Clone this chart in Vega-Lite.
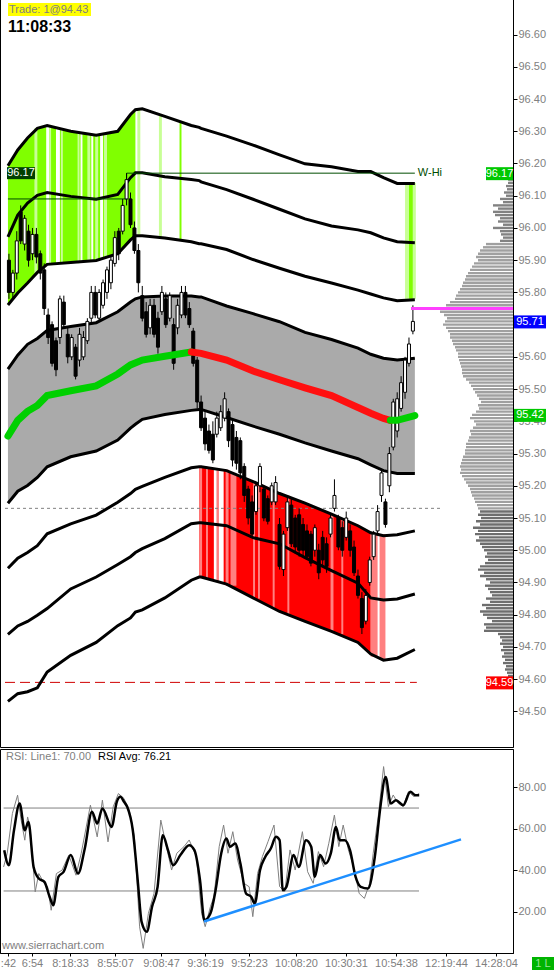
{
"$schema":"https://vega.github.io/schema/vega-lite/v6.json",
"padding":{"left":-2,"top":-3,"right":0,"bottom":0},
"spacing":0,
"background":"white",
"config":{"view":{"stroke":"black","strokeWidth":1},"concat":{"spacing":0},"text":{"font":"Liberation Sans"},"scale":{"nice":false,"zero":false},"axis":{"grid":false,"labelOverlap":false,"labelFont":"Liberation Sans","labelFontSize":11,"labelColor":"#808080","domainColor":"black","tickColor":"black"}},
"datasets":{
"bands":[
{"i":-0.25,"A":96.193,"B":95.972,"C":95.761,"D":95.562,"E":95.354,"F":95.146,"G":94.944,"H":94.739,"I":94.531},
{"i":2.25,"A":96.242,"B":96.040,"C":95.798,"D":95.605,"E":95.403,"F":95.183,"G":94.975,"H":94.765,"I":94.555},
{"i":4.75,"A":96.279,"B":96.077,"C":95.829,"D":95.639,"E":95.431,"F":95.201,"G":94.993,"H":94.779,"I":94.561},
{"i":7.25,"A":96.309,"B":96.101,"C":95.862,"D":95.657,"E":95.449,"F":95.226,"G":95.014,"H":94.798,"I":94.573},
{"i":9.75,"A":96.318,"B":96.110,"C":95.887,"D":95.682,"E":95.480,"F":95.259,"G":95.051,"H":94.819,"I":94.622},
{"i":15.75,"A":96.300,"B":96.098,"C":95.893,"D":95.694,"E":95.495,"F":95.290,"G":95.082,"H":94.880,"I":94.674},
{"i":22.25,"A":96.288,"B":96.089,"C":95.899,"D":95.706,"E":95.510,"F":95.308,"G":95.109,"H":94.917,"I":94.714},
{"i":27.75,"A":96.300,"B":96.104,"C":95.920,"D":95.740,"E":95.547,"F":95.342,"G":95.149,"H":94.956,"I":94.766},
{"i":31,"A":96.352,"B":96.156,"C":95.963,"D":95.770,"E":95.575,"F":95.379,"G":95.176,"H":94.980,"I":94.790},
{"i":32.25,"A":96.367,"B":96.171,"C":95.976,"D":95.780,"E":95.581,"F":95.391,"G":95.189,"H":94.993,"I":94.808},
{"i":34,"A":96.370,"B":96.171,"C":95.976,"D":95.786,"E":95.590,"F":95.406,"G":95.198,"H":95.005,"I":94.815},
{"i":39.75,"A":96.346,"B":96.159,"C":95.969,"D":95.789,"E":95.602,"F":95.421,"G":95.226,"H":95.036,"I":94.852},
{"i":46.5,"A":96.318,"B":96.150,"C":95.957,"D":95.789,"E":95.615,"F":95.434,"G":95.256,"H":95.082,"I":94.907},
{"i":48.5,"A":96.312,"B":96.147,"C":95.951,"D":95.786,"E":95.611,"F":95.437,"G":95.259,"H":95.085,"I":94.917},
{"i":49,"A":96.309,"B":96.143,"C":95.951,"D":95.786,"E":95.611,"F":95.437,"G":95.259,"H":95.085,"I":94.917},
{"i":55.5,"A":96.285,"B":96.119,"C":95.933,"D":95.758,"E":95.590,"F":95.412,"G":95.247,"H":95.076,"I":94.895},
{"i":62.25,"A":96.257,"B":96.089,"C":95.902,"D":95.734,"E":95.556,"F":95.385,"G":95.213,"H":95.039,"I":94.852},
{"i":69,"A":96.227,"B":96.058,"C":95.875,"D":95.709,"E":95.529,"F":95.360,"G":95.176,"H":95.020,"I":94.810},
{"i":75.5,"A":96.199,"B":96.028,"C":95.850,"D":95.676,"E":95.504,"F":95.333,"G":95.146,"H":94.977,"I":94.779},
{"i":82.25,"A":96.190,"B":96.006,"C":95.829,"D":95.654,"E":95.480,"F":95.308,"G":95.112,"H":94.937,"I":94.748},
{"i":89,"A":96.175,"B":95.994,"C":95.807,"D":95.627,"E":95.443,"F":95.284,"G":95.076,"H":94.898,"I":94.714},
{"i":92.25,"A":96.175,"B":95.985,"C":95.795,"D":95.608,"E":95.425,"F":95.265,"G":95.054,"H":94.852,"I":94.678},
{"i":95.5,"A":96.156,"B":95.969,"C":95.783,"D":95.596,"E":95.409,"F":95.247,"G":95.045,"H":94.846,"I":94.659},
{"i":99,"A":96.138,"B":95.957,"C":95.774,"D":95.590,"E":95.403,"F":95.238,"G":95.048,"H":94.849,"I":94.665},
{"i":103.5,"A":96.138,"B":95.954,"C":95.777,"D":95.596,"E":95.418,"F":95.238,"G":95.060,"H":94.864,"I":94.692}
],
"stripes":[
{"a":6.5,"b":7.25,"t":96.31,"u":95.86,"k":"lg"},
{"a":9.5,"b":10.25,"t":96.32,"u":95.88,"k":"w"},
{"a":10.25,"b":10.75,"t":96.32,"u":95.89,"k":"lg"},
{"a":12,"b":13,"t":96.31,"u":95.89,"k":"w"},
{"a":13.25,"b":13.75,"t":96.31,"u":95.89,"k":"lg"},
{"a":17.5,"b":18,"t":96.30,"u":95.89,"k":"lg"},
{"a":18.25,"b":18.75,"t":96.30,"u":95.89,"k":"w"},
{"a":20,"b":20.75,"t":96.29,"u":95.90,"k":"lg"},
{"a":21,"b":21.5,"t":96.29,"u":95.90,"k":"w"},
{"a":22,"b":22.75,"t":96.29,"u":95.90,"k":"lg"},
{"a":23.25,"b":24,"t":96.29,"u":95.90,"k":"w"},
{"a":24.25,"b":25,"t":96.29,"u":95.91,"k":"lg"},
{"a":32.75,"b":33.5,"t":96.37,"u":95.98,"k":"lg"},
{"a":38.25,"b":39,"t":96.35,"u":95.97,"k":"lg"},
{"a":43.5,"b":44,"t":96.33,"u":95.96,"k":"g"},
{"a":101,"b":102,"t":96.14,"u":95.78,"k":"lg"},
{"a":102,"b":103,"t":96.14,"u":95.78,"k":"g"},
{"a":103,"b":103.75,"t":96.14,"u":95.78,"k":"lg"},
{"a":48.5,"b":49.25,"t":95.26,"u":94.92,"k":"pk"},
{"a":50.25,"b":50.75,"t":95.26,"u":94.91,"k":"pk"},
{"a":52.25,"b":53,"t":95.25,"u":94.90,"k":"w"},
{"a":53,"b":53.5,"t":95.25,"u":94.90,"k":"pk"},
{"a":53.5,"b":54.75,"t":95.25,"u":94.90,"k":"w"},
{"a":55.25,"b":56,"t":95.25,"u":94.89,"k":"pk"},
{"a":56.5,"b":58,"t":95.24,"u":94.89,"k":"pk"},
{"a":62.25,"b":62.75,"t":95.21,"u":94.85,"k":"pk"},
{"a":63.5,"b":64,"t":95.21,"u":94.85,"k":"pk"},
{"a":67.25,"b":67.75,"t":95.19,"u":94.82,"k":"pk"},
{"a":71,"b":71.5,"t":95.17,"u":94.80,"k":"pk"},
{"a":82,"b":82.75,"t":95.11,"u":94.75,"k":"pk"},
{"a":84.75,"b":85.25,"t":95.10,"u":94.74,"k":"pk"},
{"a":92.25,"b":94,"t":95.05,"u":94.67,"k":"pk"},
{"a":94.5,"b":96,"t":95.05,"u":94.66,"k":"pk"}
],
"candles":[
{"i":0,"o":95.90,"h":95.92,"l":95.78,"c":95.80},{"i":1,"o":95.80,"h":95.87,"l":95.78,"c":95.86},{"i":2,"o":95.86,"h":95.99,"l":95.84,"c":95.96},{"i":3,"o":96.05,"h":96.07,"l":95.95,"c":95.96},{"i":4,"o":95.95,"h":96.04,"l":95.93,"c":96.03},{"i":5,"o":95.99,"h":96.01,"l":95.88,"c":95.90},{"i":6,"o":95.92,"h":96.00,"l":95.90,"c":95.98},{"i":7,"o":95.98,"h":96.00,"l":95.89,"c":95.91},{"i":8,"o":95.92,"h":95.93,"l":95.84,"c":95.86},{"i":9,"o":95.87,"h":95.89,"l":95.73,"c":95.75},
{"i":10,"o":95.73,"h":95.75,"l":95.64,"c":95.66},{"i":11,"o":95.70,"h":95.71,"l":95.57,"c":95.58},{"i":12,"o":95.65,"h":95.66,"l":95.54,"c":95.56},{"i":13,"o":95.66,"h":95.79,"l":95.64,"c":95.78},{"i":14,"o":95.77,"h":95.79,"l":95.69,"c":95.70},{"i":15,"o":95.67,"h":95.69,"l":95.58,"c":95.60},{"i":16,"o":95.60,"h":95.67,"l":95.59,"c":95.66},{"i":17,"o":95.63,"h":95.64,"l":95.53,"c":95.54},{"i":18,"o":95.59,"h":95.69,"l":95.57,"c":95.67},{"i":19,"o":95.60,"h":95.68,"l":95.59,"c":95.66},
{"i":20,"o":95.65,"h":95.72,"l":95.64,"c":95.71},{"i":21,"o":95.72,"h":95.82,"l":95.70,"c":95.80},{"i":22,"o":95.80,"h":95.82,"l":95.72,"c":95.73},{"i":23,"o":95.72,"h":95.81,"l":95.71,"c":95.80},{"i":24,"o":95.76,"h":95.84,"l":95.75,"c":95.83},{"i":25,"o":95.80,"h":95.88,"l":95.78,"c":95.87},{"i":26,"o":95.83,"h":95.91,"l":95.81,"c":95.90},{"i":27,"o":95.89,"h":95.99,"l":95.88,"c":95.97},{"i":28,"o":95.99,"h":96.00,"l":95.90,"c":95.92},{"i":29,"o":95.99,"h":96.09,"l":95.98,"c":96.07},
{"i":30,"o":96.09,"h":96.17,"l":96.07,"c":96.15},{"i":31,"o":96.09,"h":96.11,"l":96.00,"c":96.01},{"i":32,"o":96.00,"h":96.02,"l":95.92,"c":95.93},{"i":33,"o":95.93,"h":95.95,"l":95.80,"c":95.83},{"i":34,"o":95.79,"h":95.82,"l":95.71,"c":95.72},{"i":35,"o":95.74,"h":95.77,"l":95.66,"c":95.67},{"i":36,"o":95.69,"h":95.78,"l":95.67,"c":95.76},{"i":37,"o":95.76,"h":95.78,"l":95.66,"c":95.67},{"i":38,"o":95.72,"h":95.74,"l":95.61,"c":95.63},{"i":39,"o":95.74,"h":95.82,"l":95.73,"c":95.80},
{"i":40,"o":95.78,"h":95.80,"l":95.69,"c":95.70},{"i":41,"o":95.72,"h":95.80,"l":95.71,"c":95.79},{"i":42,"o":95.70,"h":95.72,"l":95.56,"c":95.58},{"i":43,"o":95.69,"h":95.78,"l":95.67,"c":95.76},{"i":44,"o":95.73,"h":95.82,"l":95.72,"c":95.80},{"i":45,"o":95.80,"h":95.82,"l":95.72,"c":95.73},{"i":46,"o":95.75,"h":95.77,"l":95.69,"c":95.70},{"i":47,"o":95.68,"h":95.69,"l":95.57,"c":95.58},{"i":48,"o":95.59,"h":95.60,"l":95.44,"c":95.46},{"i":49,"o":95.46,"h":95.48,"l":95.37,"c":95.38},
{"i":50,"o":95.41,"h":95.43,"l":95.31,"c":95.33},{"i":51,"o":95.37,"h":95.39,"l":95.30,"c":95.31},{"i":52,"o":95.36,"h":95.40,"l":95.27,"c":95.28},{"i":53,"o":95.36,"h":95.43,"l":95.35,"c":95.41},{"i":54,"o":95.38,"h":95.45,"l":95.37,"c":95.43},{"i":55,"o":95.41,"h":95.49,"l":95.40,"c":95.47},{"i":56,"o":95.43,"h":95.44,"l":95.32,"c":95.34},{"i":57,"o":95.39,"h":95.41,"l":95.26,"c":95.28},{"i":58,"o":95.35,"h":95.37,"l":95.25,"c":95.27},{"i":59,"o":95.34,"h":95.35,"l":95.22,"c":95.24},
{"i":60,"o":95.26,"h":95.27,"l":95.15,"c":95.17},{"i":61,"o":95.19,"h":95.20,"l":95.08,"c":95.10},{"i":62,"o":95.15,"h":95.17,"l":95.04,"c":95.05},{"i":63,"o":95.12,"h":95.21,"l":95.11,"c":95.20},{"i":64,"o":95.20,"h":95.27,"l":95.18,"c":95.26},{"i":65,"o":95.19,"h":95.20,"l":95.09,"c":95.10},{"i":66,"o":95.16,"h":95.17,"l":95.08,"c":95.09},{"i":67,"o":95.15,"h":95.21,"l":95.14,"c":95.20},{"i":68,"o":95.15,"h":95.23,"l":95.14,"c":95.21},{"i":69,"o":95.08,"h":95.10,"l":94.94,"c":94.95},
{"i":70,"o":94.94,"h":95.06,"l":94.92,"c":95.05},{"i":71,"o":95.07,"h":95.17,"l":95.06,"c":95.15},{"i":72,"o":95.14,"h":95.16,"l":95.01,"c":95.02},{"i":73,"o":95.10,"h":95.11,"l":94.99,"c":95.01},{"i":74,"o":95.11,"h":95.13,"l":94.98,"c":95.00},{"i":75,"o":95.08,"h":95.10,"l":94.98,"c":95.00},{"i":76,"o":95.06,"h":95.08,"l":94.97,"c":94.98},{"i":77,"o":95.05,"h":95.06,"l":94.95,"c":94.96},{"i":78,"o":95.00,"h":95.08,"l":94.98,"c":95.07},{"i":79,"o":95.00,"h":95.02,"l":94.91,"c":94.93},
{"i":80,"o":95.04,"h":95.06,"l":94.95,"c":94.97},{"i":81,"o":95.02,"h":95.04,"l":94.93,"c":94.95},{"i":82,"o":95.05,"h":95.11,"l":95.04,"c":95.10},{"i":83,"o":95.13,"h":95.22,"l":95.12,"c":95.17},{"i":84,"o":95.10,"h":95.11,"l":95.00,"c":95.01},{"i":85,"o":95.07,"h":95.09,"l":94.98,"c":95.00},{"i":86,"o":95.04,"h":95.12,"l":95.03,"c":95.10},{"i":87,"o":95.06,"h":95.08,"l":94.98,"c":95.00},{"i":88,"o":95.01,"h":95.03,"l":94.92,"c":94.93},{"i":89,"o":94.92,"h":94.94,"l":94.85,"c":94.86},
{"i":90,"o":94.85,"h":94.87,"l":94.74,"c":94.76},{"i":91,"o":94.78,"h":94.88,"l":94.77,"c":94.86},{"i":92,"o":94.90,"h":94.98,"l":94.89,"c":94.97},{"i":93,"o":94.98,"h":95.06,"l":94.97,"c":95.05},{"i":94,"o":95.06,"h":95.14,"l":95.05,"c":95.12},{"i":95,"o":95.17,"h":95.25,"l":95.15,"c":95.24},{"i":96,"o":95.15,"h":95.16,"l":95.07,"c":95.08},{"i":97,"o":95.20,"h":95.32,"l":95.18,"c":95.30},{"i":98,"o":95.32,"h":95.47,"l":95.31,"c":95.46},{"i":99,"o":95.37,"h":95.49,"l":95.35,"c":95.47},
{"i":100,"o":95.44,"h":95.54,"l":95.43,"c":95.52},{"i":101,"o":95.49,"h":95.60,"l":95.47,"c":95.59},{"i":102,"o":95.58,"h":95.66,"l":95.57,"c":95.64},{"i":103,"o":95.68,"h":95.76,"l":95.67,"c":95.71}
],
"ctr":[
{"i":-0.25,"p":95.354,"s":"g1"},{"i":2.25,"p":95.403,"s":"g1"},{"i":4.75,"p":95.431,"s":"g1"},{"i":7.25,"p":95.449,"s":"g1"},{"i":9.75,"p":95.48,"s":"g1"},{"i":15.75,"p":95.495,"s":"g1"},{"i":22.25,"p":95.51,"s":"g1"},{"i":27.75,"p":95.547,"s":"g1"},{"i":31,"p":95.575,"s":"g1"},{"i":34,"p":95.59,"s":"g1"},{"i":39.75,"p":95.602,"s":"g1"},{"i":46.5,"p":95.615,"s":"g1"},
{"i":46.5,"p":95.615,"s":"r"},{"i":49,"p":95.611,"s":"r"},{"i":55.5,"p":95.59,"s":"r"},{"i":62.25,"p":95.556,"s":"r"},{"i":69,"p":95.529,"s":"r"},{"i":75.5,"p":95.504,"s":"r"},{"i":82.25,"p":95.48,"s":"r"},{"i":89,"p":95.443,"s":"r"},{"i":92.25,"p":95.425,"s":"r"},{"i":95.5,"p":95.409,"s":"r"},{"i":97.25,"p":95.403,"s":"r"},
{"i":97.25,"p":95.403,"s":"g2"},{"i":99,"p":95.403,"s":"g2"},{"i":103.5,"p":95.418,"s":"g2"}
],
"prof":[
{"p":96.17,"v":3},{"p":96.16,"v":4},{"p":96.15,"v":5},{"p":96.14,"v":5},{"p":96.13,"v":7},{"p":96.12,"v":6},{"p":96.11,"v":9},{"p":96.10,"v":7},{"p":96.09,"v":13},{"p":96.08,"v":10},
{"p":96.07,"v":20},{"p":96.06,"v":15},{"p":96.05,"v":20},{"p":96.04,"v":18},{"p":96.03,"v":13},{"p":96.02,"v":15},{"p":96.01,"v":10},{"p":96.00,"v":20},{"p":95.99,"v":13},{"p":95.98,"v":12},
{"p":95.97,"v":10},{"p":95.96,"v":13},{"p":95.95,"v":27},{"p":95.94,"v":30},{"p":95.93,"v":33},{"p":95.92,"v":35},{"p":95.91,"v":37},{"p":95.90,"v":35},{"p":95.89,"v":39},{"p":95.88,"v":41},
{"p":95.87,"v":43},{"p":95.86,"v":45},{"p":95.85,"v":47},{"p":95.84,"v":48},{"p":95.83,"v":50},{"p":95.82,"v":51},{"p":95.81,"v":53},{"p":95.80,"v":55},{"p":95.79,"v":57},{"p":95.78,"v":58},
{"p":95.77,"v":63},{"p":95.76,"v":67},{"p":95.75,"v":71},{"p":95.74,"v":73},{"p":95.73,"v":69},{"p":95.72,"v":66},{"p":95.71,"v":68},{"p":95.70,"v":70},{"p":95.69,"v":67},{"p":95.68,"v":65},
{"p":95.67,"v":63},{"p":95.66,"v":63},{"p":95.65,"v":61},{"p":95.64,"v":60},{"p":95.63,"v":58},{"p":95.62,"v":57},{"p":95.61,"v":55},{"p":95.60,"v":55},{"p":95.59,"v":54},{"p":95.58,"v":53},
{"p":95.57,"v":52},{"p":95.56,"v":51},{"p":95.55,"v":51},{"p":95.54,"v":50},{"p":95.53,"v":47},{"p":95.52,"v":44},{"p":95.51,"v":42},{"p":95.50,"v":40},{"p":95.49,"v":38},{"p":95.48,"v":36},
{"p":95.47,"v":34},{"p":95.46,"v":32},{"p":95.45,"v":35},{"p":95.44,"v":34},{"p":95.43,"v":37},{"p":95.42,"v":41},{"p":95.41,"v":43},{"p":95.40,"v":39},{"p":95.39,"v":37},{"p":95.38,"v":40},
{"p":95.37,"v":43},{"p":95.36,"v":42},{"p":95.35,"v":44},{"p":95.34,"v":45},{"p":95.33,"v":47},{"p":95.32,"v":47},{"p":95.31,"v":48},{"p":95.30,"v":48},{"p":95.29,"v":50},{"p":95.28,"v":51},
{"p":95.27,"v":52},{"p":95.26,"v":53},{"p":95.25,"v":52},{"p":95.24,"v":53},{"p":95.23,"v":51},{"p":95.22,"v":49},{"p":95.21,"v":47},{"p":95.20,"v":45},{"p":95.19,"v":43},{"p":95.18,"v":42},
{"p":95.17,"v":41},{"p":95.16,"v":39},{"p":95.15,"v":38},{"p":95.14,"v":36},{"p":95.13,"v":35},{"p":95.12,"v":33},{"p":95.11,"v":35},{"p":95.10,"v":32},{"p":95.09,"v":37},{"p":95.08,"v":33},
{"p":95.07,"v":40},{"p":95.06,"v":35},{"p":95.05,"v":38},{"p":95.04,"v":34},{"p":95.03,"v":37},{"p":95.02,"v":33},{"p":95.01,"v":31},{"p":95.00,"v":29},{"p":94.99,"v":26},{"p":94.98,"v":28},
{"p":94.97,"v":25},{"p":94.96,"v":28},{"p":94.95,"v":33},{"p":94.94,"v":35},{"p":94.93,"v":29},{"p":94.92,"v":33},{"p":94.91,"v":27},{"p":94.90,"v":23},{"p":94.89,"v":28},{"p":94.88,"v":25},
{"p":94.87,"v":23},{"p":94.86,"v":21},{"p":94.85,"v":27},{"p":94.84,"v":23},{"p":94.83,"v":31},{"p":94.82,"v":27},{"p":94.81,"v":33},{"p":94.80,"v":30},{"p":94.79,"v":26},{"p":94.78,"v":21},
{"p":94.77,"v":29},{"p":94.76,"v":27},{"p":94.75,"v":29},{"p":94.74,"v":15},{"p":94.73,"v":13},{"p":94.72,"v":11},{"p":94.71,"v":13},{"p":94.70,"v":10},{"p":94.69,"v":12},{"p":94.68,"v":9},
{"p":94.67,"v":11},{"p":94.66,"v":8},{"p":94.65,"v":10},{"p":94.64,"v":7},{"p":94.63,"v":8},{"p":94.62,"v":6},{"p":94.61,"v":5},{"p":94.60,"v":4},{"p":94.59,"v":3}
],
"rsiA":[
{"i":0.06,"r":49.7},{"i":1.2,"r":42.4},{"i":2.5,"r":59.3},{"i":3.9,"r":72.2},{"i":5.2,"r":59.3},{"i":6.1,"r":63.3},{"i":7.4,"r":41.6},{"i":8.7,"r":36.0},{"i":10.1,"r":34.4},{"i":11.4,"r":27.2},{"i":12.3,"r":23.1},{"i":13.6,"r":36.8},{"i":14.9,"r":39.2},{"i":16.7,"r":47.3},{"i":18.5,"r":38.4},{"i":20.2,"r":50.5},{"i":22.0,"r":68.2},{"i":23.3,"r":62.5},{"i":24.6,"r":69.8},{"i":26.9,"r":60.9},{"i":28.2,"r":73.0},{"i":29.1,"r":75.4},{"i":30.0,"r":73.0},{"i":30.8,"r":70.6},{"i":32.2,"r":59.3},{"i":33.5,"r":33.6},{"i":34.4,"r":15.1},{"i":35.7,"r":10.3},{"i":37.0,"r":22.3},{"i":38.4,"r":32.0},{"i":39.7,"r":56.9},{"i":41.0,"r":49.7},{"i":42.3,"r":42.4},{"i":44.1,"r":47.3},{"i":46.3,"r":52.1},{"i":47.6,"r":49.7},{"i":49.0,"r":35.2},{"i":50.1,"r":15.9},{"i":51.6,"r":19.1},{"i":52.9,"r":30.4},{"i":54.3,"r":48.1},{"i":55.6,"r":55.3},{"i":56.5,"r":51.3},{"i":57.8,"r":52.9},{"i":59.1,"r":43.2},{"i":60.5,"r":28.8},{"i":61.8,"r":27.2},{"i":62.7,"r":23.9},{"i":64.0,"r":40.0},{"i":65.3,"r":46.4},{"i":66.7,"r":50.5},{"i":68.0,"r":56.1},{"i":68.9,"r":54.5},{"i":69.7,"r":30.4},{"i":70.6,"r":32.0},{"i":72.4,"r":47.3},{"i":73.7,"r":41.6},{"i":75.5,"r":54.5},{"i":76.8,"r":51.3},{"i":77.7,"r":36.8},{"i":79.0,"r":47.3},{"i":80.4,"r":43.2},{"i":81.7,"r":48.1},{"i":83.0,"r":60.9},{"i":83.9,"r":54.5},{"i":85.2,"r":54.5},{"i":86.5,"r":49.7},{"i":87.9,"r":36.8},{"i":89.2,"r":32.0},{"i":91.0,"r":31.2},{"i":92.7,"r":46.4},{"i":94.1,"r":70.6},{"i":95.4,"r":85.0},{"i":96.7,"r":72.2},{"i":98.0,"r":73.8},{"i":99.8,"r":71.4},{"i":101.6,"r":77.8},{"i":102.9,"r":76.2},{"i":103.8,"r":76.2}
],
"rsiR":[
{"i":-0.1,"r":41.6},{"i":0.8,"r":48.1},{"i":2.1,"r":67.4},{"i":3.4,"r":76.2},{"i":4.3,"r":64.1},{"i":5.2,"r":54.5},{"i":5.9,"r":65.7},{"i":6.5,"r":60.9},{"i":7.8,"r":29.6},{"i":8.7,"r":38.4},{"i":9.6,"r":35.2},{"i":10.9,"r":32.0},{"i":11.8,"r":20.7},{"i":13.1,"r":38.4},{"i":14.5,"r":40.0},{"i":16.2,"r":47.3},{"i":18.0,"r":37.6},{"i":19.3,"r":48.1},{"i":21.6,"r":71.4},{"i":23.3,"r":56.1},{"i":24.6,"r":73.8},{"i":26.0,"r":53.7},{"i":27.3,"r":70.6},{"i":28.6,"r":77.0},{"i":30.0,"r":74.6},{"i":31.3,"r":69.0},{"i":32.6,"r":56.1},{"i":33.9,"r":12.7},{"i":34.8,"r":2.3},{"i":36.1,"r":19.2},{"i":37.5,"r":28.8},{"i":39.2,"r":64.2},{"i":40.6,"r":51.4},{"i":41.9,"r":40.1},{"i":43.2,"r":48.2},{"i":45.0,"r":51.4},{"i":46.3,"r":54.6},{"i":48.1,"r":46.5},{"i":49.4,"r":19.2},{"i":50.3,"r":12.8},{"i":51.6,"r":22.4},{"i":52.5,"r":27.3},{"i":53.8,"r":51.4},{"i":54.9,"r":61.8},{"i":56.0,"r":48.2},{"i":57.2,"r":58.6},{"i":58.4,"r":44.9},{"i":60.0,"r":33.7},{"i":61.3,"r":32.0},{"i":62.2,"r":17.6},{"i":63.4,"r":38.5},{"i":64.6,"r":46.6},{"i":66.0,"r":53.8},{"i":67.5,"r":61.8},{"i":68.9,"r":32.1},{"i":70.2,"r":29.7},{"i":71.5,"r":49.8},{"i":72.8,"r":40.1},{"i":74.6,"r":58.6},{"i":75.9,"r":39.3},{"i":77.3,"r":33.7},{"i":78.6,"r":49.0},{"i":79.9,"r":41.7},{"i":81.2,"r":53.0},{"i":82.6,"r":66.6},{"i":83.7,"r":51.4},{"i":84.8,"r":61.8},{"i":86.1,"r":49.8},{"i":87.4,"r":41.7},{"i":88.8,"r":28.8},{"i":90.1,"r":26.4},{"i":91.4,"r":33.7},{"i":92.3,"r":48.2},{"i":93.6,"r":66.6},{"i":94.9,"r":90.0},{"i":96.1,"r":70.7},{"i":97.3,"r":76.3},{"i":98.5,"r":72.3},{"i":99.8,"r":70.7},{"i":101.1,"r":77.9},{"i":102.5,"r":75.5},{"i":103.8,"r":77.1}
]
},
"vconcat":[
{
"width":513,"height":749,
"resolve":{"scale":{"x":"independent"}},
"layer":[
{"layer":[
{"data":{"name":"bands"},"mark":{"type":"area","color":"#aaaaaa"},
 "encoding":{"x":{"field":"i","type":"quantitative","scale":{"domain":[-1,127.25],"nice":false},"axis":null},
  "y":{"field":"D","type":"quantitative","scale":{"domain":[94.405,96.698],"nice":false,"zero":false},"axis":{"orient":"right","title":null,"values":[94.5,94.6,94.7,94.8,94.9,95.0,95.1,95.2,95.3,95.4,95.5,95.6,95.7,95.8,95.9,96.0,96.1,96.2,96.3,96.4,96.5,96.6],"tickCount":40,"format":".2f","tickSize":4,"labelPadding":1,"labelOverlap":false}},
  "y2":{"field":"F"}}},
{"data":{"name":"bands"},"transform":[{"filter":"datum.i <= 32.25"}],"mark":{"type":"area","color":"#80ff00"},
 "encoding":{"x":{"field":"i","type":"quantitative","axis":null},"y":{"field":"A","type":"quantitative"},"y2":{"field":"C"}}},
{"data":{"name":"bands"},"transform":[{"filter":"datum.i >= 48.5 && datum.i <= 92.25"}],"mark":{"type":"area","color":"#ff0000"},
 "encoding":{"x":{"field":"i","type":"quantitative","axis":null},"y":{"field":"G","type":"quantitative"},"y2":{"field":"I"}}},
{"data":{"name":"stripes"},"mark":{"type":"rect"},
 "encoding":{"x":{"field":"a","type":"quantitative","axis":null},"x2":{"field":"b"},"y":{"field":"t","type":"quantitative"},"y2":{"field":"u"},
  "color":{"condition":[{"test":"datum.k==='w'","value":"#ffffff"},{"test":"datum.k==='lg'","value":"#c8ff96"},{"test":"datum.k==='g'","value":"#80ff00"}],"value":"#ff8080"}}},
{"data":{"values":[{"p":95.13,"a":-1,"b":110.25}]},"mark":{"type":"rule","color":"#808080","strokeWidth":1,"strokeDash":[3,3]},
 "encoding":{"x":{"field":"a","type":"quantitative","axis":null},"x2":{"field":"b"},"y":{"field":"p","type":"quantitative"}}},
{"data":{"values":[{"p":94.59,"a":-1,"b":104}]},"mark":{"type":"rule","color":"#d00000","strokeWidth":1,"strokeDash":[10,5]},
 "encoding":{"x":{"field":"a","type":"quantitative","axis":null},"x2":{"field":"b"},"y":{"field":"p","type":"quantitative"}}},
{"data":{"name":"bands"},"transform":[{"fold":["A","B","C","D","F","G","H","I"],"as":["band","pv"]}],"mark":{"type":"line","color":"black","strokeWidth":3},
 "encoding":{"x":{"field":"i","type":"quantitative","axis":null},"y":{"field":"pv","type":"quantitative"},"detail":{"field":"band"}}},
{"data":{"values":[{"i":-0.25,"p":96.09,"o":1},{"i":30,"p":96.09,"o":2},{"i":30,"p":96.17,"o":3},{"i":103.5,"p":96.17,"o":4}]},"mark":{"type":"line","color":"#004d00","strokeWidth":1},
 "encoding":{"x":{"field":"i","type":"quantitative","axis":null},"y":{"field":"p","type":"quantitative"},"order":{"field":"o"}}},
{"data":{"name":"candles"},"mark":{"type":"rule","color":"black","strokeWidth":1},
 "encoding":{"x":{"field":"i","type":"quantitative","axis":null},"y":{"field":"l","type":"quantitative"},"y2":{"field":"h"}}},
{"data":{"name":"candles"},"mark":{"type":"bar","size":3,"stroke":"black","strokeWidth":1},
 "encoding":{"x":{"field":"i","type":"quantitative","axis":null},"y":{"field":"o","type":"quantitative"},"y2":{"field":"c"},
  "fill":{"condition":{"test":"datum.c >= datum.o","value":"white"},"value":"black"}}},
{"data":{"name":"ctr"},"mark":{"type":"line","strokeWidth":7,"strokeCap":"round","clip":true},
 "encoding":{"x":{"field":"i","type":"quantitative","axis":null},"y":{"field":"p","type":"quantitative"},"detail":{"field":"s"},
  "color":{"condition":{"test":"datum.s==='r'","value":"#ff1010"},"value":"#00d000"}}},
{"data":{"values":[{}]},"mark":{"type":"rect","color":"#ffff00","xOffset":3,"x2Offset":86,"y2Offset":13},
 "encoding":{"x":{"datum":-1,"type":"quantitative","axis":null},"x2":{"datum":-1},"y":{"datum":96.698,"type":"quantitative"},"y2":{"datum":96.698}}},
{"data":{"values":[{"t":"Trade: 1@94.43"}]},"mark":{"type":"text","align":"left","baseline":"middle","dx":4,"dy":6.5,"fontSize":11,"color":"#808080"},
 "encoding":{"x":{"datum":-1,"type":"quantitative","axis":null},"y":{"datum":96.698,"type":"quantitative"},"text":{"field":"t"}}},
{"data":{"values":[{"t":"11:08:33"}]},"mark":{"type":"text","align":"left","baseline":"middle","dx":3,"dy":24,"fontSize":16,"fontWeight":"bold","color":"black"},
 "encoding":{"x":{"datum":-1,"type":"quantitative","axis":null},"y":{"datum":96.698,"type":"quantitative"},"text":{"field":"t"}}},
{"data":{"values":[{"p":96.17}]},"mark":{"type":"rect","color":"#004000","xOffset":2,"x2Offset":30,"yOffset":-6,"y2Offset":6},
 "encoding":{"x":{"datum":-1,"type":"quantitative","axis":null},"x2":{"datum":-1},"y":{"field":"p","type":"quantitative"},"y2":{"field":"p"}}},
{"data":{"values":[{"p":96.17,"t":"96.17"}]},"mark":{"type":"text","align":"center","baseline":"middle","dx":16,"fontSize":11,"color":"white"},
 "encoding":{"x":{"datum":-1,"type":"quantitative","axis":null},"y":{"field":"p","type":"quantitative"},"text":{"field":"t"}}},
{"data":{"values":[{"i":104,"p":96.17,"t":"W-Hi"}]},"mark":{"type":"text","align":"left","baseline":"middle","dx":1,"fontSize":11,"color":"#004d00"},
 "encoding":{"x":{"field":"i","type":"quantitative","axis":null},"y":{"field":"p","type":"quantitative"},"text":{"field":"t"}}}
]},
{"layer":[
{"data":{"name":"prof"},"mark":{"type":"bar","orient":"horizontal","size":2.4},
 "encoding":{"x":{"field":"v","type":"quantitative","scale":{"domain":[0,513],"reverse":true,"nice":false},"axis":null},"y":{"field":"p","type":"quantitative"},
  "color":{"condition":[{"test":"datum.p >= 95.955","value":"#828282"},{"test":"datum.p >= 95.125","value":"#a0a0a0"}],"value":"#6e6e6e"}}},
{"data":{"values":[{"p":95.75,"v":102}]},"mark":{"type":"rule","color":"#ff40ff","strokeWidth":3},
 "encoding":{"x":{"field":"v","type":"quantitative","axis":null},"x2":{"datum":0},"y":{"field":"p","type":"quantitative"}}},
{"data":{"values":[{"p":96.17,"a":27,"b":0,"m":13.5,"t":"96.17","k":"g"},{"p":94.59,"a":27,"b":0,"m":13.5,"t":"94.59","k":"r"},{"p":95.71,"a":-1,"b":-33,"m":-17,"t":"95.71","k":"b"},{"p":95.42,"a":-1,"b":-33,"m":-17,"t":"95.42","k":"g"}]},
 "layer":[
  {"mark":{"type":"rect","yOffset":-6,"y2Offset":7},
   "encoding":{"x":{"field":"a","type":"quantitative","axis":null},"x2":{"field":"b"},"y":{"field":"p","type":"quantitative"},"y2":{"field":"p"},
    "color":{"condition":[{"test":"datum.k==='g'","value":"#00c800"},{"test":"datum.k==='r'","value":"#ff0000"}],"value":"#0000ff"}}},
  {"mark":{"type":"text","align":"center","baseline":"middle","fontSize":11,"color":"white","dy":0.5},
   "encoding":{"x":{"field":"m","type":"quantitative","axis":null},"y":{"field":"p","type":"quantitative"},"text":{"field":"t"}}}
 ]}
]}
]
},
{
"width":513,"height":204,
"layer":[
{"data":{"values":[{"r":70,"a":-0.1,"b":103.75},{"r":30,"a":-0.1,"b":103.75}]},"mark":{"type":"rule","color":"#808080","strokeWidth":1},
 "encoding":{"x":{"field":"a","type":"quantitative","scale":{"domain":[-1,127.25],"nice":false},
   "axis":{"orient":"bottom","title":null,"values":[1,7,16.5,27.75,39.25,50.25,61.25,73,85.5,98,110.5,123],"tickCount":20,"labelExpr":"datum.value==1?':42':datum.value==7?'6:54':datum.value==16.5?'8:18:33':datum.value==27.75?'8:55:07':datum.value==39.25?'9:08:47':datum.value==50.25?'9:36:19':datum.value==61.25?'9:52:23':datum.value==73?'10:08:20':datum.value==85.5?'10:30:31':datum.value==98?'10:54:38':datum.value==110.5?'12:19:44':'14:28:04'","tickSize":3,"labelPadding":1,"labelOverlap":false,"labelFlush":false,"labelBound":false}},
  "x2":{"field":"b"},
  "y":{"field":"r","type":"quantitative","scale":{"domain":[0.08,98.48],"nice":false,"zero":false},"axis":{"orient":"right","title":null,"values":[20,40,60,80],"tickCount":10,"format":".2f","tickSize":4,"labelPadding":1}}}},
{"data":{"name":"rsiR"},"mark":{"type":"line","color":"#808080","strokeWidth":1},
 "encoding":{"x":{"field":"i","type":"quantitative"},"y":{"field":"r","type":"quantitative"}}},
{"data":{"name":"rsiA"},"mark":{"type":"line","color":"black","strokeWidth":2.5,"interpolate":"monotone"},
 "encoding":{"x":{"field":"i","type":"quantitative"},"y":{"field":"r","type":"quantitative"}}},
{"data":{"values":[{"i":50,"r":15.3},{"i":114.25,"r":54.9}]},"mark":{"type":"line","color":"#1e8fff","strokeWidth":2.5},
 "encoding":{"x":{"field":"i","type":"quantitative"},"y":{"field":"r","type":"quantitative"}}},
{"data":{"values":[{"t":"RSI:  Line1: 70.00","d":6,"c":"g"},{"t":"RSI Avg: 76.21","d":98,"c":"k"}]},"mark":{"type":"text","align":"left","baseline":"middle","dy":8,"fontSize":11},
 "encoding":{"x":{"datum":-1,"type":"quantitative"},"xOffset":{"field":"d","type":"quantitative","scale":null},"y":{"datum":98.48,"type":"quantitative"},"text":{"field":"t"},
  "color":{"condition":{"test":"datum.c==='g'","value":"#808080"},"value":"#000000"}}},
{"data":{"values":[{"t":"www.sierrachart.com"}]},"mark":{"type":"text","align":"left","baseline":"middle","dx":2,"dy":-7,"fontSize":11,"color":"#808080"},
 "encoding":{"x":{"datum":-1,"type":"quantitative"},"y":{"datum":0.08,"type":"quantitative"},"text":{"field":"t"}}},
{"data":{"values":[{}]},"mark":{"type":"rect","color":"#00b400","yOffset":4,"y2Offset":17},
 "encoding":{"x":{"datum":132,"type":"quantitative"},"x2":{"datum":137.5},"y":{"datum":0.08,"type":"quantitative"},"y2":{"datum":0.08}}},
{"data":{"values":[{"t":"1 L"}]},"mark":{"type":"text","align":"center","baseline":"middle","dy":10.5,"fontSize":11,"color":"#9be09b"},
 "encoding":{"x":{"datum":134.75,"type":"quantitative"},"y":{"datum":0.08,"type":"quantitative"},"text":{"field":"t"}}}
]
}
]
}
